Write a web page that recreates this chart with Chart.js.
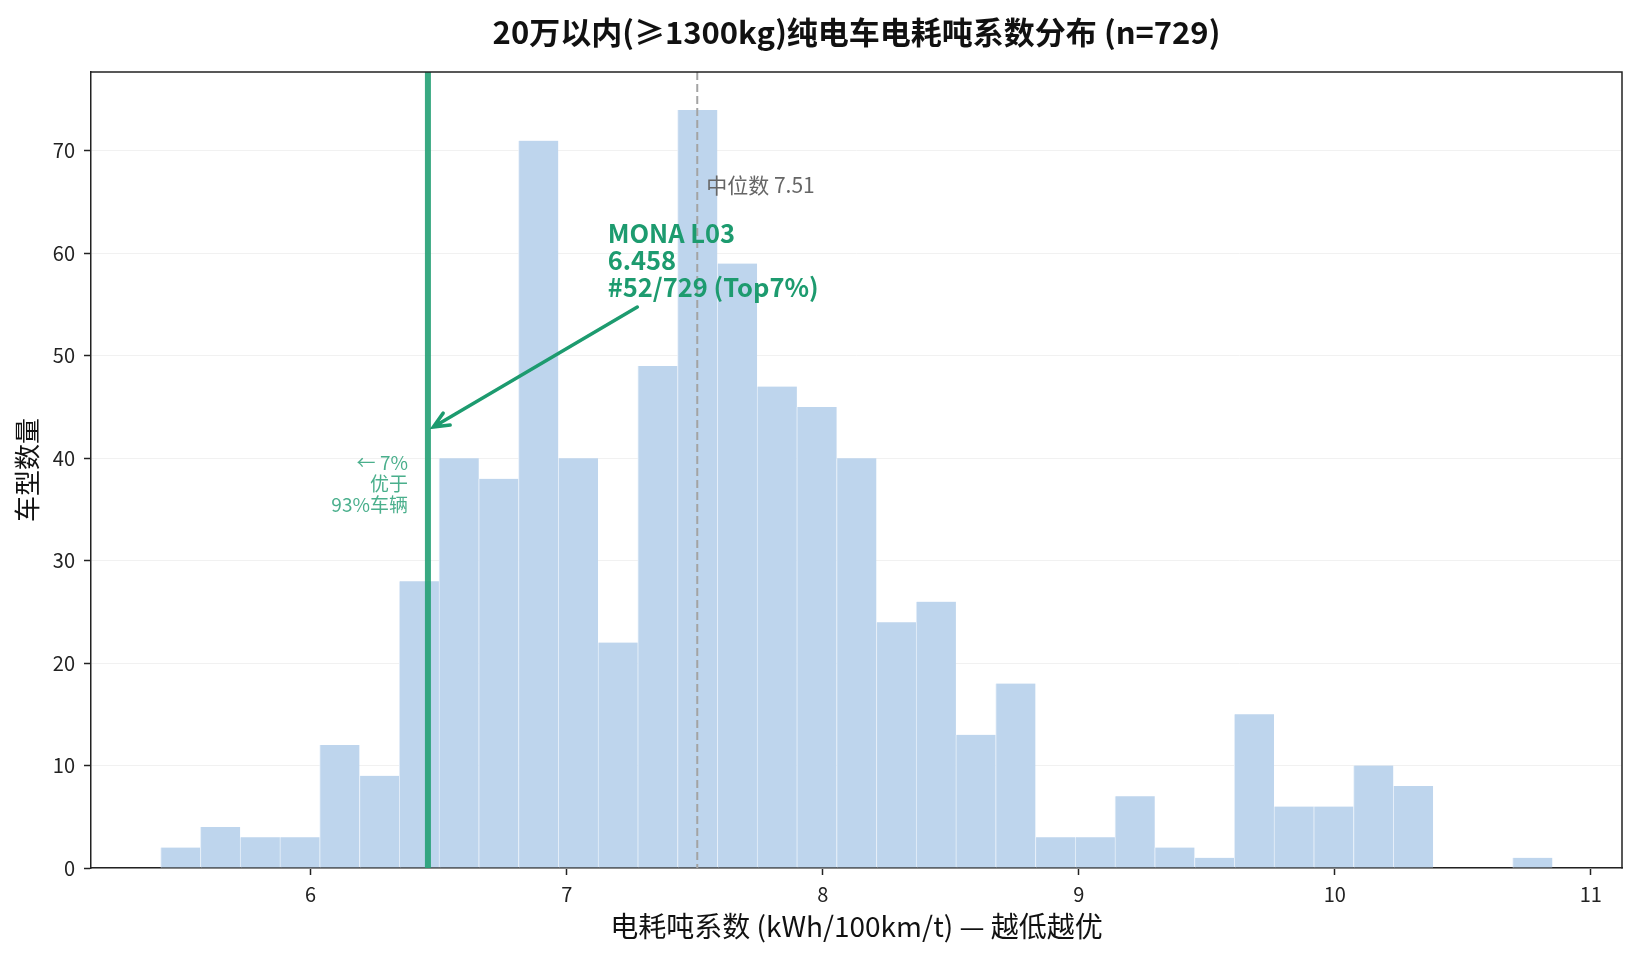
<!DOCTYPE html>
<html>
<head>
<meta charset="utf-8">
<script src="https://cdn.jsdelivr.net/npm/chart.js@4.4.1/dist/chart.umd.min.js"></script>
<style>
    html, body { margin: 0; padding: 0; background: #fff; }
    #wrap { width: 1634px; height: 959px; }
</style>
</head>
<body>
<div id="wrap"><canvas id="histChart"></canvas></div>
<script>
// histogram bins (35 equal bins between binMin and binMax)
const binMin = 5.414;
const binMax = 10.850;
const counts = [2, 4, 3, 3, 12, 9, 28, 40, 38, 71, 40, 22, 49, 74, 59, 47, 45, 40, 24, 26, 13, 18, 3, 3, 7, 2, 1, 15, 6, 6, 10, 8, 0, 0, 1];
const xTicks = [6, 7, 8, 9, 10, 11];
const yTicks = [0, 10, 20, 30, 40, 50, 60, 70];
const xRange = [5.142, 11.122];
const yRange = [0, 77.7];

const monaValue = 6.458;
const medianValue = 7.51;
const chartTitle = '20万以内(≥1300kg)纯电车电耗吨系数分布 (n=729)';
const monaLines = ['MONA L03', '6.458', '#52/729 (Top7%)'];
const sideLines = ['← 7%', '优于', '93%车辆'];

const FONT = '"Noto Sans CJK SC", "Noto Sans", sans-serif';
const GREEN = '#1d9b6f';

document.addEventListener('DOMContentLoaded', () => {
    const ctx = document.getElementById('histChart').getContext('2d');
    const binWidth = (binMax - binMin) / counts.length;
    const points = counts.map((c, i) => ({ x: binMin + (i + 0.5) * binWidth, y: c }));

    // title over the plot area, median line, MONA marker, labels, arrow, top/right frame
    const markers = {
        id: 'markers',
        afterDatasetsDraw(chart) {
            const { ctx, chartArea: area, scales: { x, y } } = chart;
            ctx.save();

            // title centred on the axes like matplotlib
            ctx.fillStyle = '#111';
            ctx.font = 'bold 31px ' + FONT;
            ctx.textAlign = 'center';
            ctx.textBaseline = 'middle';
            ctx.fillText(chartTitle, (area.left + area.right) / 2, 32);

            // median dashed line
            const mx = x.getPixelForValue(medianValue);
            ctx.strokeStyle = '#a3a3a3';
            ctx.lineWidth = 2;
            ctx.setLineDash([8, 4]);
            ctx.beginPath();
            ctx.moveTo(mx, area.top);
            ctx.lineTo(mx, area.bottom);
            ctx.stroke();
            ctx.setLineDash([]);

            // MONA L03 line
            const gx = x.getPixelForValue(monaValue);
            ctx.strokeStyle = 'rgba(36, 160, 116, 0.9)';
            ctx.lineWidth = 6;
            ctx.beginPath();
            ctx.moveTo(gx, area.top);
            ctx.lineTo(gx, area.bottom);
            ctx.stroke();

            // median text
            ctx.fillStyle = '#666';
            ctx.font = '21px ' + FONT;
            ctx.textAlign = 'left';
            ctx.fillText('中位数 7.51', mx + 9, y.getPixelForValue(66.7));

            // annotation text
            ctx.fillStyle = GREEN;
            ctx.font = 'bold 25.5px ' + FONT;
            const tx = x.getPixelForValue(7.16);
            const ty = y.getPixelForValue(62.0);
            monaLines.forEach((t, i) => ctx.fillText(t, tx, ty + i * 27));

            // arrow
            const ax0 = x.getPixelForValue(7.276), ay0 = y.getPixelForValue(54.75);
            const ax1 = x.getPixelForValue(6.479), ay1 = y.getPixelForValue(43.05);
            ctx.strokeStyle = GREEN;
            ctx.lineWidth = 3.5;
            ctx.lineCap = 'round';
            ctx.beginPath();
            ctx.moveTo(ax0, ay0);
            ctx.lineTo(ax1, ay1);
            const ang = Math.atan2(ay1 - ay0, ax1 - ax0);
            const hl = 17, hw = 0.42;
            ctx.moveTo(ax1 - hl * Math.cos(ang - hw), ay1 - hl * Math.sin(ang - hw));
            ctx.lineTo(ax1, ay1);
            ctx.lineTo(ax1 - hl * Math.cos(ang + hw), ay1 - hl * Math.sin(ang + hw));
            ctx.stroke();

            // side note
            ctx.fillStyle = 'rgba(29, 155, 111, 0.8)';
            ctx.font = '19px ' + FONT;
            ctx.textAlign = 'right';
            const sy = y.getPixelForValue(39.6);
            sideLines.forEach((t, i) => ctx.fillText(t, gx - 20, sy + i * 21));

            // top and right spines
            ctx.strokeStyle = '#222';
            ctx.lineWidth = 1.5;
            ctx.beginPath();
            ctx.moveTo(area.left, area.top);
            ctx.lineTo(area.right, area.top);
            ctx.lineTo(area.right, area.bottom);
            ctx.stroke();
            ctx.restore();
        }
    };

    new Chart(ctx, {
        type: 'bar',
        data: {
            datasets: [{
                data: points,
                backgroundColor: '#bed5ed',
                borderColor: '#e6eff9',
                borderWidth: { left: 1, right: 0, top: 0, bottom: 0 },
                borderSkipped: false,
                barPercentage: 1,
                categoryPercentage: 1,
                grouped: false
            }]
        },
        options: {
            responsive: true,
            maintainAspectRatio: false,
            animation: false,
            layout: { padding: { top: 72, right: 12 } },
            plugins: {
                legend: { display: false },
                tooltip: { enabled: false },
                title: { display: false }
            },
            scales: {
                x: {
                    type: 'linear',
                    min: xRange[0],
                    max: xRange[1],
                    offset: false,
                    afterBuildTicks: (s) => { s.ticks = xTicks.map(v => ({ value: v })); },
                    afterFit: (s) => { s.height = 91; },
                    grid: { offset: false, drawOnChartArea: false, drawTicks: true, tickLength: 7, tickColor: '#222', tickWidth: 1.5 },
                    border: { color: '#222', width: 1.5 },
                    ticks: { color: '#222', padding: 7, font: { family: FONT, size: 20 } },
                    title: {
                        display: true,
                        text: '电耗吨系数 (kWh/100km/t) — 越低越优',
                        color: '#111',
                        font: { family: FONT, size: 28 },
                        padding: { bottom: 16 }
                    }
                },
                y: {
                    min: yRange[0],
                    max: yRange[1],
                    afterBuildTicks: (s) => { s.ticks = yTicks.map(v => ({ value: v })); },
                    afterFit: (s) => { s.width = 91; },
                    grid: { color: '#f1f1f1', lineWidth: 1, tickLength: 7, tickColor: '#222', tickWidth: 1.5 },
                    border: { color: '#222', width: 1.5 },
                    ticks: { color: '#222', padding: 9, font: { family: FONT, size: 20 } },
                    title: {
                        display: true,
                        text: '车型数量',
                        color: '#111',
                        font: { family: FONT, size: 26 },
                        padding: { top: 12 }
                    }
                }
            }
        },
        plugins: [markers]
    });
});
</script>
</body>
</html>
